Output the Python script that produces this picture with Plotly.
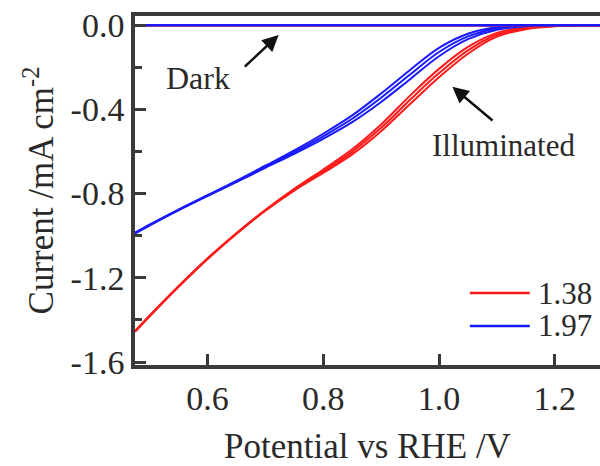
import plotly.graph_objects as go

# ---------------- data ----------------
potential = [0.475, 0.5, 0.55, 0.6, 0.65, 0.7, 0.75, 0.8, 0.85, 0.9, 0.95,
             1.0, 1.05, 1.1, 1.15, 1.2, 1.25, 1.3]

# illuminated, sample 1.38 (three repeat scans)
red_a = [-1.453, -1.380, -1.240, -1.108, -0.988, -0.878, -0.778, -0.686, -0.590, -0.472,
         -0.335, -0.208, -0.104, -0.037, -0.012, -0.004, -0.001, 0.0]
red_b = [-1.455, -1.382, -1.242, -1.110, -0.990, -0.880, -0.782, -0.694, -0.602, -0.488,
         -0.355, -0.228, -0.120, -0.046, -0.016, -0.005, -0.002, -0.001]
red_c = [-1.457, -1.384, -1.244, -1.112, -0.992, -0.882, -0.786, -0.702, -0.614, -0.504,
         -0.375, -0.248, -0.136, -0.055, -0.020, -0.006, -0.002, -0.001]

# illuminated, sample 1.97 (three repeat scans)
blue_a = [-0.986, -0.948, -0.876, -0.808, -0.740, -0.668, -0.595, -0.516, -0.429, -0.325,
          -0.213, -0.108, -0.041, -0.010, -0.002, 0.0, 0.0, 0.0]
blue_b = [-0.988, -0.950, -0.878, -0.810, -0.743, -0.673, -0.603, -0.528, -0.445, -0.345,
          -0.235, -0.128, -0.054, -0.016, -0.004, -0.001, 0.0, 0.0]
blue_c = [-0.990, -0.952, -0.880, -0.812, -0.746, -0.678, -0.611, -0.540, -0.461, -0.365,
          -0.257, -0.148, -0.067, -0.022, -0.006, -0.002, -0.001, 0.0]

# dark scans
dark_138 = [-0.003] * len(potential)
dark_197 = [-0.001] * len(potential)

series_names = ["1.38", "1.97"]
series_colors = ["#ff1a1a", "#1a1aff"]

y_tickvals = [0.0, -0.4, -0.8, -1.2, -1.6]
y_ticktext = ["0.0", "-0.4", "-0.8", "-1.2", "-1.6"]
y_minorvals = [-0.2, -0.6, -1.0, -1.4]
x_tickvals = [0.6, 0.8, 1.0, 1.2]
x_ticktext = ["0.6", "0.8", "1.0", "1.2"]

FONT = "Liberation Serif, Times New Roman, serif"
TXT = "#2a2a2a"
AX = "#3a3a3a"

fig = go.Figure()

for ys in (red_a, red_b, red_c):
    fig.add_trace(go.Scatter(x=potential, y=ys, mode="lines", line_shape="spline",
                             line=dict(color=series_colors[0], width=2), showlegend=False))
for ys in (blue_a, blue_b, blue_c):
    fig.add_trace(go.Scatter(x=potential, y=ys, mode="lines", line_shape="spline",
                             line=dict(color=series_colors[1], width=2), showlegend=False))
fig.add_trace(go.Scatter(x=potential, y=dark_138, mode="lines",
                         line=dict(color=series_colors[0], width=2), showlegend=False))
fig.add_trace(go.Scatter(x=potential, y=dark_197, mode="lines",
                         line=dict(color=series_colors[1], width=2.5), showlegend=False))

# custom legend (bottom right)
leg_y = [0.206, 0.112]
for name, col, ly in zip(series_names, series_colors, leg_y):
    fig.add_shape(type="line", xref="paper", yref="paper", x0=0.72, x1=0.849, y0=ly, y1=ly,
                  line=dict(color=col, width=2.5))
    fig.add_annotation(xref="paper", yref="paper", x=0.862, y=ly, text=name, showarrow=False,
                       xanchor="left", yanchor="middle", font=dict(family=FONT, size=31, color=TXT))

# text labels and their arrows
fig.add_annotation(x=0.584, y=-0.252, text="Dark", showarrow=False,
                   font=dict(family=FONT, size=32, color=TXT))
fig.add_annotation(x=0.723, y=-0.047, ax=0.662, ay=-0.204, axref="x", ayref="y", text="",
                   showarrow=True, arrowhead=2, arrowsize=1.3, arrowwidth=2.5, arrowcolor="#111")
fig.add_annotation(x=1.112, y=-0.57, text="Illuminated", showarrow=False,
                   font=dict(family=FONT, size=31, color=TXT))
fig.add_annotation(x=1.023, y=-0.293, ax=1.095, ay=-0.459, axref="x", ayref="y", text="",
                   showarrow=True, arrowhead=2, arrowsize=1.3, arrowwidth=2.5, arrowcolor="#111")

fig.update_layout(
    width=600, height=466,
    margin=dict(l=135, r=0, t=16, b=101),
    paper_bgcolor="white", plot_bgcolor="white",
    font=dict(family=FONT, size=34, color=TXT),
    showlegend=False,
)
fig.update_xaxes(
    range=[0.475, 1.278], showgrid=False, zeroline=False,
    showline=True, linecolor=AX, linewidth=3.5, mirror=True,
    tickmode="array", tickvals=x_tickvals, ticktext=x_ticktext,
    ticks="inside", ticklen=11, tickwidth=3, tickcolor=AX,
    tickfont=dict(family=FONT, size=34, color=TXT),
    title=dict(text="Potential vs RHE /V", font=dict(family=FONT, size=35, color=TXT), standoff=20),
)
fig.update_yaxes(
    range=[-1.614, 0.043], showgrid=False, zeroline=False,
    showline=True, linecolor=AX, linewidth=3.5, mirror=False,
    tickmode="array", tickvals=y_tickvals, ticktext=y_ticktext,
    ticks="inside", ticklen=11, tickwidth=3, tickcolor=AX,
    minor=dict(tickvals=y_minorvals, ticks="inside", ticklen=7, tickwidth=3, tickcolor=AX, showgrid=False),
    tickfont=dict(family=FONT, size=34, color=TXT),
    title=dict(text="Current /mA cm<sup>-2</sup>", font=dict(family=FONT, size=35, color=TXT), standoff=7),
)

fig.write_html("out.html")
